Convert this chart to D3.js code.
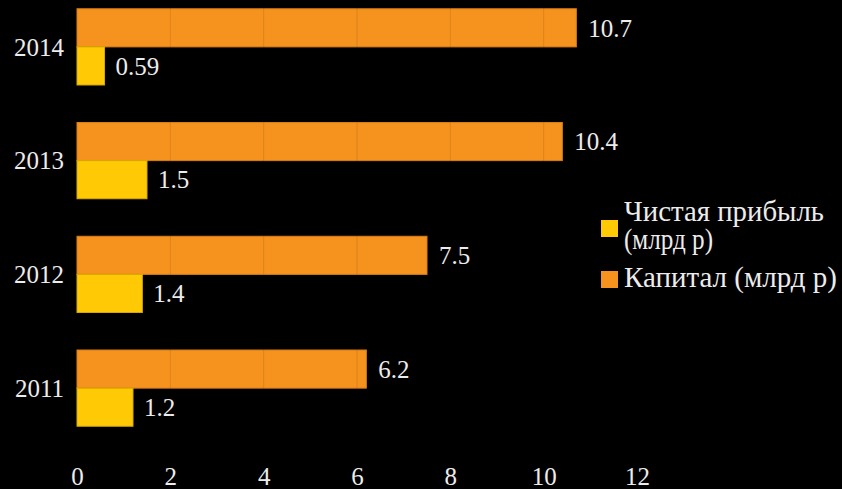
<!DOCTYPE html>
<html><head><meta charset="utf-8">
<script src="https://cdn.jsdelivr.net/npm/d3@7"></script>
<style>html,body{margin:0;padding:0;background:#000;}svg{display:block;}</style>
</head><body>
<svg id="chart" width="842" height="489"></svg>
<script>
const years = ["2014","2013","2012","2011"];
const capital = [10.7, 10.4, 7.5, 6.2];
const profit = [0.59, 1.5, 1.4, 1.2];
const xTicks = [0,2,4,6,8,10,12];
const legendLines = [["Чистая прибыль","(млрд р)"],["Капитал (млрд р)"]];
const colors = {capital:"#F6921E", profit:"#FFCA05"};

const svg = d3.select("#chart");
svg.append("rect").attr("width",842).attr("height",489).attr("fill","#000");
const textCol = "#ececec";
const fs = 25;
const FF = '"Liberation Serif"';

const x = d3.scaleLinear().domain([0,12]).range([77,637]);
const y = d3.scaleBand().domain(years).range([-10,445]).paddingInner(0.33).paddingOuter(0.165);
const bw = y.bandwidth()/2;

const g = svg.append("g");
g.selectAll("rect.cap").data(years).join("rect").attr("class","cap")
  .attr("x",x(0)).attr("y",d=>y(d))
  .attr("width",(d,i)=>x(capital[i])-x(0)).attr("height",bw)
  .attr("fill",colors.capital).attr("stroke","#d97f17").attr("stroke-width",1);
g.selectAll("rect.pro").data(years).join("rect").attr("class","pro")
  .attr("x",x(0)).attr("y",d=>y(d)+bw)
  .attr("width",(d,i)=>x(profit[i])-x(0)).attr("height",bw)
  .attr("fill",colors.profit).attr("stroke","#d9a800").attr("stroke-width",1);

// faint gridlines (only visible over bars)
svg.append("g").selectAll("line").data(xTicks.slice(1)).join("line")
  .attr("x1",d=>x(d)).attr("x2",d=>x(d)).attr("y1",0).attr("y2",440)
  .attr("stroke","rgba(0,0,0,0.1)").attr("stroke-width",1);

g.selectAll("text.capl").data(years).join("text")
  .attr("x",(d,i)=>x(capital[i])+12).attr("y",d=>y(d)+bw/2)
  .attr("dy","0.35em").text((d,i)=>capital[i])
  .attr("fill",textCol).style("font-family",FF).style("font-size",fs+"px");
g.selectAll("text.prol").data(years).join("text")
  .attr("x",(d,i)=>x(profit[i])+11).attr("y",d=>y(d)+bw*1.5)
  .attr("dy","0.35em").text((d,i)=>profit[i])
  .attr("fill",textCol).style("font-family",FF).style("font-size",fs+"px");

const yAxis = svg.append("g").attr("transform","translate(77,0)")
  .call(d3.axisLeft(y).tickSize(0).tickPadding(13));
yAxis.select(".domain").remove();
yAxis.selectAll("text").attr("fill",textCol).style("font-family",FF).style("font-size",fs+"px").attr("dy","0.35em");

const xAxis = svg.append("g").attr("transform","translate(0,461)")
  .call(d3.axisBottom(x).tickValues(xTicks).tickSize(0).tickPadding(0));
xAxis.select(".domain").remove();
xAxis.selectAll("text").attr("fill",textCol).style("font-family",FF).style("font-size",fs+"px").attr("dy","0.95em");

const lg = svg.append("g");
lg.append("rect").attr("x",601).attr("y",220).attr("width",17).attr("height",17).attr("fill",colors.profit);
lg.append("rect").attr("x",601).attr("y",271).attr("width",17).attr("height",17).attr("fill",colors.capital);
const t1 = lg.append("text").attr("x",624).attr("y",221).attr("fill",textCol)
  .style("font-family",FF).style("font-size","29px");
const lens = [200, 89];
legendLines[0].forEach((s,i)=>t1.append("tspan").attr("x",624).attr("dy",i?28:0)
  .attr("textLength",lens[i]).attr("lengthAdjust","spacingAndGlyphs").text(s));
lg.append("text").attr("x",624).attr("y",287).attr("fill",textCol)
  .style("font-family",FF).style("font-size","29px")
  .attr("textLength",213).attr("lengthAdjust","spacingAndGlyphs").text(legendLines[1][0]);
</script>
</body></html>
